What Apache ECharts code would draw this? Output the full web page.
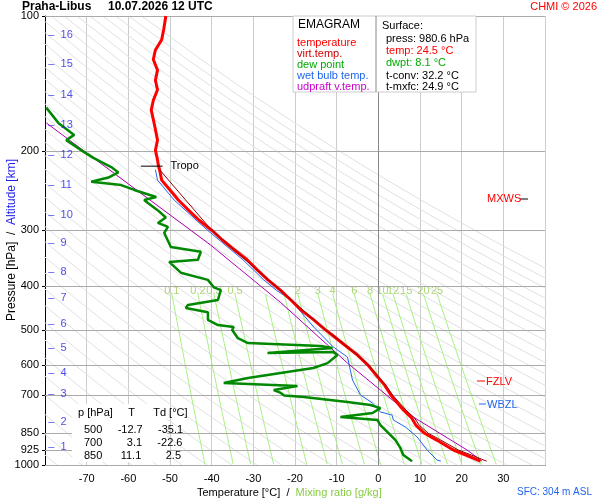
<!DOCTYPE html>
<html><head><meta charset="utf-8">
<script src="https://cdn.jsdelivr.net/npm/echarts@6/dist/echarts.min.js"></script>
<style>html,body{margin:0;padding:0;background:#fff}#main{width:600px;height:500px}</style>
</head><body><div id="main"></div>
<script>
// profile data: [temperature degC, pressure hPa]
var tempData = [[24.5,980.6],[21,950],[18,926],[14,880],[11.1,850],[9,815],[8,786],[6,754],[4,717],[3.1,700],[1.5,664],[-0.5,631],[-2.5,599],[-5,569],[-8,541],[-11,514],[-12.7,500],[-15.5,475],[-18.5,452],[-21,429],[-23.5,408],[-26.5,387],[-29,368],[-31.5,349],[-34.5,332],[-37.5,315],[-40,300],[-43,285],[-45.5,271],[-48,257],[-50,244],[-52,232],[-52.5,220],[-52.8,215],[-53,209],[-53.5,199],[-53,189],[-53.5,179],[-54,170],[-54.5,162],[-54,154],[-53,146],[-53.5,139],[-53,132],[-54,125],[-53.5,119],[-52,113],[-51.5,107],[-51,100]];
var virtData = [[26,980.6],[22.3,950],[19.2,926],[15,880],[12,850],[9.8,815],[8.7,786],[6.6,754],[4.5,717],[3.5,700],[1.8,664],[-0.3,631],[-2.4,599],[-5,569],[-8,541],[-11,514],[-12.7,500],[-40,300],[-52.5,220]];
var dewData = [[8.1,980.6],[6,950],[5.3,916],[4.1,880],[2.5,850],[0.5,815],[-0.2,794],[-9.1,782],[-1.4,766],[0.5,747],[-1.9,735],[-7.4,724],[-17.9,706],[-22.6,700],[-23.4,691],[-25.1,681],[-19.4,667],[-37.1,657],[-31.3,640],[-15.6,608],[-12.2,593],[-9.8,569],[-10.8,560],[-26.6,563],[-11,549],[-13.9,543],[-31.3,535],[-33.7,522],[-35.1,500],[-34.7,493],[-38.5,488],[-40.9,475],[-40.9,457],[-46.2,447],[-45.7,440],[-38.5,429],[-37.8,408],[-39.5,402],[-40.9,387],[-47.4,373],[-50.2,353],[-43.3,349],[-42.6,335],[-49.8,327],[-51.4,304],[-50.5,295],[-52.9,289],[-51,281],[-52.9,271],[-55.3,261],[-56.2,257],[-53.3,253],[-58.6,244],[-61.7,238],[-68.9,234],[-64.8,229],[-62.4,223],[-64.1,217],[-68.4,207],[-70.6,201],[-74.9,189],[-73,184],[-76.8,173],[-79.7,160]];
var wetData = [[15,980.6],[14.1,975],[11.7,926],[9.3,866],[6.5,823],[3.6,794],[3.3,774],[0.5,762],[-1.4,728],[-4.3,698],[-6.2,647],[-7.4,575],[-10.8,546],[-15.5,493],[-21,429],[-24.5,408],[-27.5,387],[-32.5,349],[-41,300],[-49,257],[-53,232],[-53.5,220]];
var updraftData = [[24.9,980.6],[21.3,926],[8.4,782],[-7.4,593],[-23.4,435],[-40.2,324],[-79.7,173]];
var pressTicks = [100,200,300,400,500,600,700,850,925,1000];
var tempTicks = [-70,-60,-50,-40,-30,-20,-10,0,10,20,30];
var kmLevels = [1,2,3,4,5,6,7,8,9,10,11,12,13,14,15,16];
var kmPress = [912,802,695,624,549,485,425,372,320,277,238,204,175,150,128,110];
var mixRatios = [0.1,0.2,0.3,0.5,1,1.5,2,3,4,6,8,10,12,15,20,25];
var mixLabels = ['0.1','0.2','0.3','0.5','','','2','3','4','6','8','10','12','15','20','25'];

var chart = echarts.init(document.getElementById('main'));
var series = [];

// dry adiabats
for (var th = 190; th <= 420; th += 6) {
  var pts = [];
  for (var p = 100; p <= 1000; p += 25) pts.push([th*Math.pow(p/1000,0.286)-273.15, p]);
  series.push({type:'line',data:pts,symbol:'none',silent:true,lineStyle:{color:'#e0e0e0',width:1},z:1});
}
// mixing ratio lines
var mixLabelPts = [];
mixRatios.forEach(function(w,i){
  var pts = [];
  for (var p = 416; p <= 1000; p += 20) {
    var l = Math.log(w*p/(622+w)/6.112);
    pts.push([243.5*l/(17.67-l), p]);
  }
  mixLabelPts.push([pts[0][0], 409, mixLabels[i]]);
  series.push({type:'line',data:pts,symbol:'none',silent:true,lineStyle:{color:'#a8f080',width:1},z:2});
});
series.push({type:'scatter',data:mixLabelPts,symbolSize:0,silent:true,z:3,
  label:{show:true,position:'inside',color:'#99cc55',fontSize:11,formatter:function(d){return d.value[2];}}});
// horizontal pressure lines + 0 isotherm
series.push({type:'line',data:[],markLine:{silent:true,symbol:'none',label:{show:false},
  lineStyle:{color:'#aaa',type:'solid',width:1},
  data:pressTicks.map(function(p){return {yAxis:p};}).concat([{xAxis:0,lineStyle:{color:'#888'}}])}});

series.push({type:'line',data:updraftData,symbol:'none',lineStyle:{color:'#b000b0',width:1},z:5});
series.push({type:'line',data:wetData,symbol:'none',lineStyle:{color:'#2266ee',width:1},z:6});
series.push({type:'line',data:dewData,symbol:'none',lineStyle:{color:'#008800',width:2.5},z:7});
series.push({type:'line',data:tempData,symbol:'none',lineStyle:{color:'#ff0000',width:3},z:8});
series.push({type:'line',data:virtData,symbol:'none',lineStyle:{color:'#990000',width:1},z:9});
// tropopause marker
series.push({type:'line',data:[[-57,216],[-51.8,216]],symbol:'none',lineStyle:{color:'#000',width:1},z:10,
  endLabel:{show:true,formatter:'Tropo',fontSize:11,color:'#000'}});
// altitude labels
series.push({type:'scatter',symbolSize:0,z:10,
  data:kmLevels.map(function(k,i){return [-79.2,kmPress[i],k];}),
  label:{show:true,position:'right',distance:0,color:'#2222ee',fontSize:11,formatter:function(d){return '–  '+d.value[2];}}});

var txt = function(x,y,t,c,extra){var o={type:'text',left:x,top:y,style:{text:t,fill:c||'#000',font:'11px sans-serif'},z:100};if(extra)Object.assign(o.style,extra);return o;};
var graphics = [
  txt(22,1,'Praha-Libus     10.07.2026 12 UTC','#000',{font:'bold 12px sans-serif'}),
  {type:'text',right:3,top:1,style:{text:'CHMI © 2026',fill:'#ff0000',font:'11px sans-serif'}},
  {type:'rect',shape:{x:293,y:16,width:183,height:76},style:{fill:'#fff',stroke:'#ccc'},z:90},
  {type:'line',shape:{x1:376,y1:16,x2:376,y2:92},style:{stroke:'#888'},z:95},
  txt(298,19,'EMAGRAM','#000',{font:'12px sans-serif'}),
  txt(297,37,'temperature','#ff0000'), txt(297,48,'virt.temp.','#cc0000'), txt(297,59,'dew point','#00aa00'),
  txt(297,70,'wet bulb temp.','#2266ee'), txt(297,81,'udpraft v.temp.','#cc00cc'),
  txt(382,20,'Surface:'), txt(386,33,'press: 980.6 hPa'), txt(386,45,'temp: 24.5 °C','#ff0000'),
  txt(386,57,'dwpt: 8.1 °C','#00aa00'), txt(386,70,'t-conv: 32.2 °C'), txt(386,81,'t-mxfc: 24.9 °C'),
  {type:'rect',shape:{x:72,y:404,width:95,height:58},style:{fill:'#fff'},z:90},
  txt(78,407,'p [hPa]     T      Td [°C]'),
  txt(84,424,'500     -12.7     -35.1'), txt(84,437,'700        3.1     -22.6'), txt(84,450,'850      11.1        2.5'),
  txt(487,193,'MXWS','#ff0000'), {type:'line',shape:{x1:520,y1:199,x2:528,y2:199},style:{stroke:'#000'}},
  txt(486,376,'FZLV','#ff0000'), {type:'line',shape:{x1:477,y1:381,x2:485,y2:381},style:{stroke:'#ff0000'}},
  txt(487,399,'WBZL','#2266ee'), {type:'line',shape:{x1:479,y1:404,x2:486,y2:404},style:{stroke:'#2266ee'}},
  {type:'text',left:197,top:487,style:{text:'{a|Temperature [°C]  /  }{b|Mixing ratio [g/kg]}',rich:{a:{fill:'#000',font:'11px sans-serif'},b:{fill:'#88cc44',font:'11px sans-serif'}}}},
  {type:'text',x:6,y:240,rotation:Math.PI/2,style:{text:'{a|Pressure [hPa]  /  }{b|Altitude [km]}',align:'center',verticalAlign:'top',rich:{a:{fill:'#000',font:'12px sans-serif'},b:{fill:'#2222ee',font:'12px sans-serif'}}}},
  {type:'text',right:8,top:487,style:{text:'SFC: 304 m ASL',fill:'#2266ee',font:'10px sans-serif'}}
];

chart.setOption({
  animation:false,
  backgroundColor:'#fff',
  grid:{left:45,right:55,top:16,bottom:35},
  xAxis:{type:'value',min:-80,max:40,interval:10,
    axisLine:{show:true,lineStyle:{color:'#000'}},axisTick:{show:false},
    axisLabel:{color:'#000',fontSize:11,formatter:function(v){return tempTicks.indexOf(v)>=0?v:'';}},
    splitLine:{show:true,lineStyle:{color:'#ccc'}}},
  yAxis:{type:'log',logBase:10,min:100,max:1000,inverse:true,
    axisLine:{show:true,onZero:false,lineStyle:{color:'#000'}},
    axisTick:{show:true,customValues:pressTicks,length:3},
    axisLabel:{color:'#000',fontSize:11,customValues:pressTicks,margin:6,formatter:function(v){return String(Math.round(v));}},
    splitLine:{show:false}},
  series:series,
  graphic:graphics
});
</script></body></html>
